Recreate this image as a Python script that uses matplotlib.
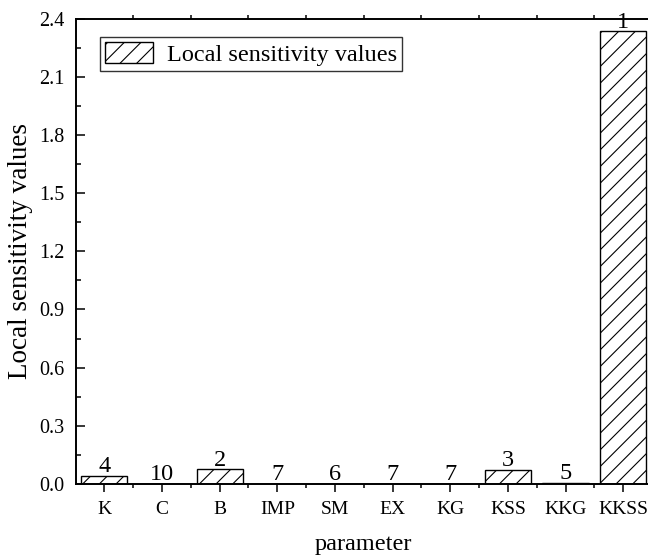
import matplotlib
matplotlib.use("Agg")
import matplotlib.pyplot as plt
import numpy as np
from matplotlib.ticker import MultipleLocator, FormatStrFormatter, FixedLocator

categories = ["K", "C", "B", "IMP", "SM", "EX", "KG", "KSS", "KKG", "KKSS"]
values = [0.043, 0.0, 0.076, 0.001, 0.002, 0.001, 0.001, 0.074, 0.007, 2.334]
ranks = ["4", "10", "2", "7", "6", "7", "7", "3", "5", "1"]
series_label = "Local sensitivity values"

plt.rcParams["font.family"] = ["Liberation Serif", "DejaVu Serif"]
plt.rcParams["hatch.linewidth"] = 0.8
plt.rcParams["hatch.color"] = "#333333"

fig = plt.figure(figsize=(6.48, 5.59), dpi=100)
ax = fig.add_axes([75.5 / 648, 75 / 559, (652 - 75.5) / 648, (484 - 18.5) / 559])

x = np.arange(len(categories))
bars = ax.bar(x, values, width=0.8, color="white", edgecolor="black",
              linewidth=1.0, hatch="//", label=series_label, zorder=2)

for xi, v, r in zip(x, values, ranks):
    ax.annotate(r, (xi, v), xytext=(0, -1), textcoords="offset points",
                ha="center", va="bottom", fontsize=17.5)

ax.set_xlim(-0.5, 9.5)
ax.set_ylim(0, 2.4)
ax.set_xticks(x)
ax.set_xticklabels(categories)
ax.xaxis.set_minor_locator(FixedLocator(x[:-1] + 0.5))
ax.yaxis.set_major_locator(MultipleLocator(0.3))
ax.yaxis.set_minor_locator(MultipleLocator(0.15))
ax.yaxis.set_major_formatter(FormatStrFormatter("%.1f"))

for s in ["left", "top", "bottom"]:
    ax.spines[s].set_linewidth(1.4)
ax.spines["right"].set_visible(False)

ax.tick_params(axis="x", which="major", direction="out", length=6, width=1.1,
               labelsize=14, pad=6, top=False)
ax.tick_params(axis="x", which="minor", direction="out", length=3, width=1.1,
               bottom=True, top=True)
ax.tick_params(axis="y", which="major", direction="in", length=6.5, width=1.1,
               labelsize=14.5, pad=8, right=False)
ax.tick_params(axis="y", which="minor", direction="in", length=3.5, width=1.1, right=False)

ax.set_xlabel("parameter", fontsize=17.5, labelpad=12)
ax.set_ylabel("Local sensitivity values", fontsize=19.5, labelpad=4)

leg = ax.legend(loc="upper left", bbox_to_anchor=(0.0425, 0.960), borderaxespad=0,
                fontsize=17.5, frameon=True, fancybox=False, handlelength=2.0,
                handleheight=0.95, handletextpad=0.55, borderpad=0.2)
leg.get_frame().set_edgecolor("black")
leg.get_frame().set_linewidth(1.0)

fig.savefig("out.png", dpi=100)
